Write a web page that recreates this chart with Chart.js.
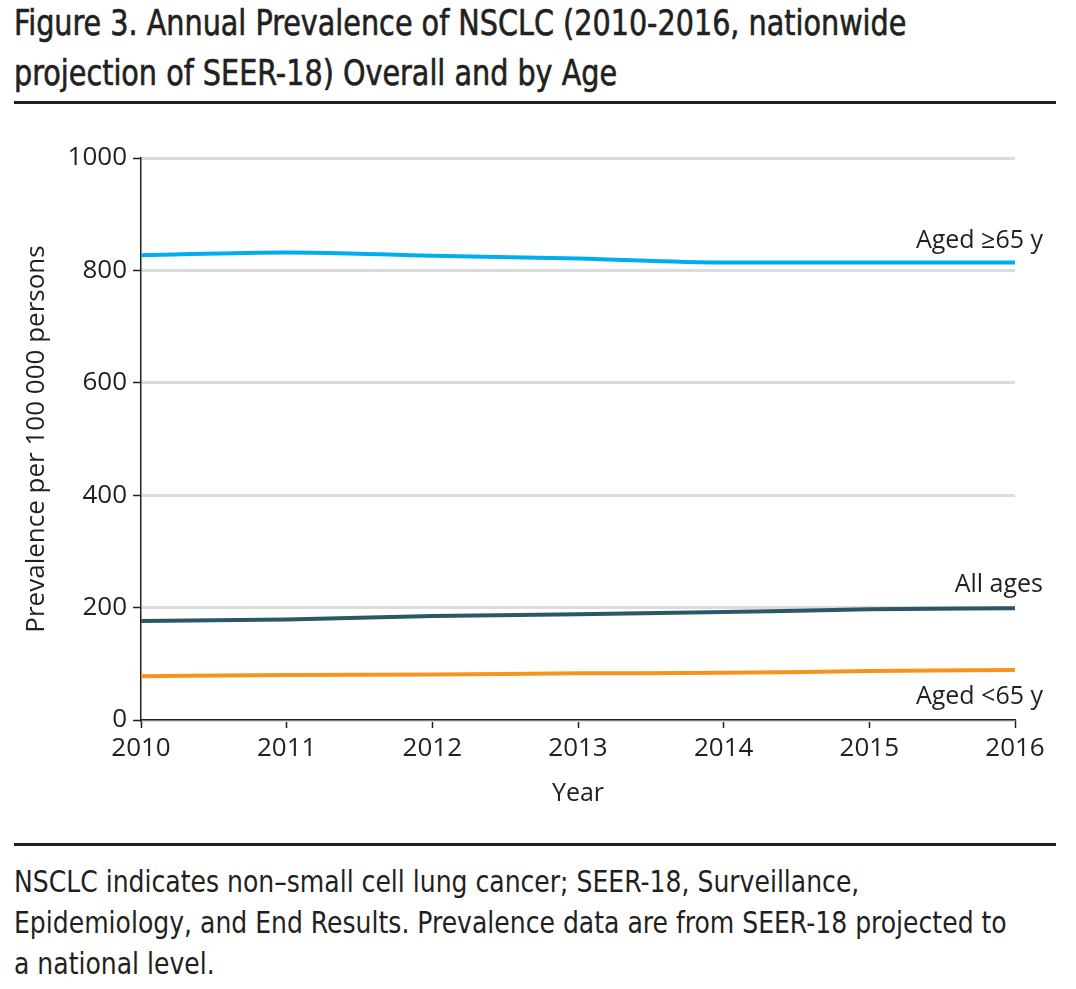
<!DOCTYPE html>
<html>
<head>
<meta charset="utf-8">
<script src="https://cdn.jsdelivr.net/npm/chart.js@4"></script>
<style>
  html, body { margin: 0; padding: 0; background: #fff; }
  body { width: 1076px; height: 989px; position: relative; overflow: hidden; color: #231f20; }
  #title { position: absolute; left: 14px; top: -2px; font-family: "DejaVu Sans Condensed", sans-serif; font-size: 35px; line-height: 50px; font-weight: normal; -webkit-text-stroke: 0.6px #231f20; white-space: nowrap; transform: scaleX(0.91); transform-origin: 0 0; }
  .rule { position: absolute; left: 14px; width: 1042px; height: 3px; background: #231f20; }
  #chartBox { position: absolute; left: 0; top: 110px; width: 1076px; height: 730px; }
  #note { position: absolute; left: 14px; top: 861px; font-family: "DejaVu Sans Condensed", sans-serif; font-size: 30px; line-height: 41px; white-space: nowrap; transform: scaleX(0.93); transform-origin: 0 0; }
</style>
</head>
<body>
<div id="title">Figure 3. Annual Prevalence of NSCLC (2010-2016, nationwide<br>projection of SEER-18) Overall and by Age</div>
<div class="rule" style="top:101px"></div>
<div id="chartBox"><canvas id="c" width="1076" height="730"></canvas></div>
<div class="rule" style="top:843px"></div>
<div id="note">NSCLC indicates non–small cell lung cancer; SEER-18, Surveillance,<br>Epidemiology, and End Results. Prevalence data are from SEER-18 projected to<br>a national level.</div>
<script>
const years = ['2010', '2011', '2012', '2013', '2014', '2015', '2016'];
const aged65Plus = [827, 832, 826, 821, 814, 814, 814];
const allAges = [176, 179, 185, 188, 192, 197, 199];
const agedUnder65 = [78, 80, 81, 83, 84, 87, 89];
const yTicks = [0, 200, 400, 600, 800, 1000];
const seriesLabels = ['Aged ≥65 y', 'All ages', 'Aged <65 y'];
const seriesColors = ['#00aeef', '#2b5866', '#f7941d'];
const labelOffsets = [-22, -23, 27];

const tickFont = { family: '"Open Sans", sans-serif', size: 26 };

const endLabels = {
  id: 'endLabels',
  afterDatasetsDraw(chart) {
    const ctx = chart.ctx;
    const area = chart.chartArea;
    const ys = chart.scales.y;
    ctx.save();
    ctx.font = '25px "Open Sans", sans-serif';
    ctx.fillStyle = '#231f20';
    ctx.textAlign = 'right';
    ctx.textBaseline = 'middle';
    chart.data.datasets.forEach((ds, i) => {
      const last = ds.data[ds.data.length - 1];
      ctx.fillText(ds.label, area.right + 28, ys.getPixelForValue(last) + labelOffsets[i]);
    });
    ctx.restore();
  }
};

new Chart(document.getElementById('c'), {
  type: 'line',
  data: {
    labels: years,
    datasets: [aged65Plus, allAges, agedUnder65].map((d, i) => ({
      label: seriesLabels[i],
      data: d,
      borderColor: seriesColors[i],
      backgroundColor: seriesColors[i],
      borderWidth: 4,
      pointRadius: 0,
      cubicInterpolationMode: 'monotone',
      fill: false
    }))
  },
  options: {
    responsive: false,
    animation: false,
    devicePixelRatio: 1,
    layout: { padding: { left: 0, right: 61, top: 48, bottom: 0 } },
    plugins: { legend: { display: false }, tooltip: { enabled: false } },
    scales: {
      x: {
        offset: false,
        grid: { drawOnChartArea: false, drawTicks: true, tickLength: 8, tickColor: '#231f20', tickWidth: 1.5 },
        border: { color: '#231f20', width: 1.5 },
        ticks: { color: '#231f20', font: tickFont, padding: 5, maxRotation: 0 },
        title: { display: true, text: 'Year', color: '#231f20', font: { family: '"Open Sans", sans-serif', size: 25 }, padding: { top: 4, bottom: 31 } },
        afterFit(s) { s.height = 120; }
      },
      y: {
        min: 0, max: 1000,
        afterBuildTicks(s) { s.ticks = yTicks.map(v => ({ value: v })); },
        grid: { color: '#dcdcde', lineWidth: 3, drawTicks: true, tickLength: 8, tickColor: '#231f20', tickWidth: 1.5 },
        border: { color: '#231f20', width: 1.5 },
        ticks: { color: '#231f20', font: tickFont, padding: 6, callback: v => String(v) },
        title: { display: true, text: 'Prevalence per 100 000 persons', color: '#231f20', font: tickFont, padding: { top: 21, bottom: 4 } },
        afterFit(s) { s.width = 141; }
      }
    }
  },
  plugins: [endLabels]
});
</script>
</body>
</html>
